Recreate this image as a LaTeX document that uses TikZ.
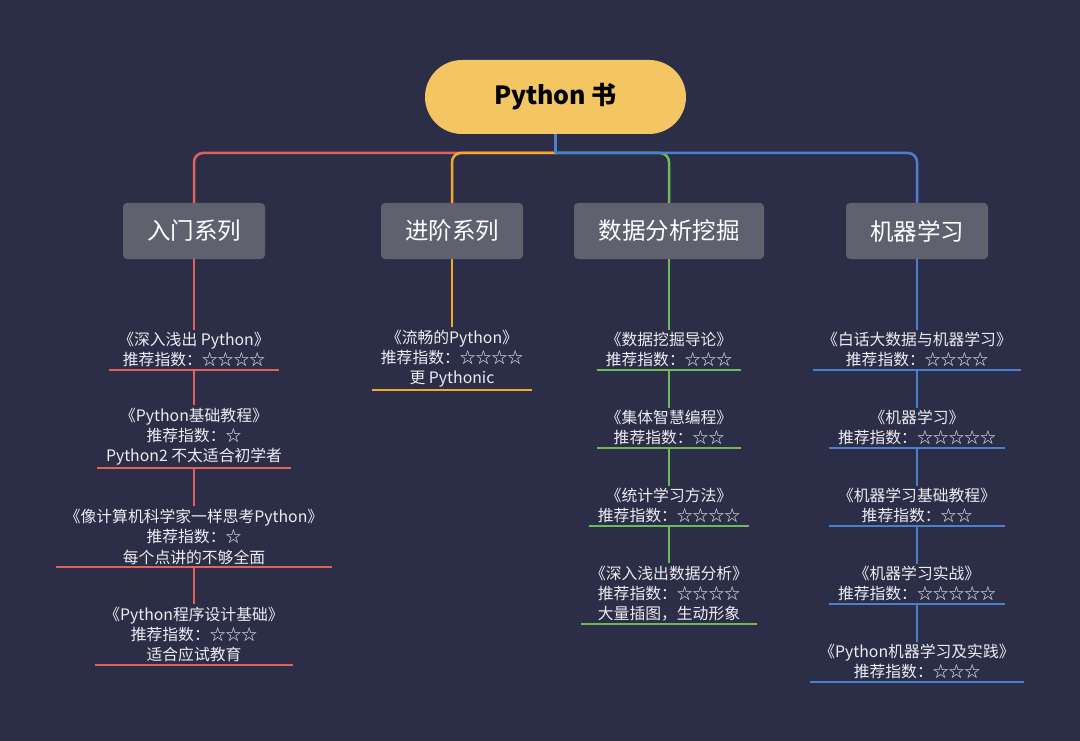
\documentclass[tikz,border=0pt]{standalone}
\usepackage{fontspec}
\setmainfont{Noto Sans CJK SC}
\definecolor{bg}{HTML}{2C2E48}
\definecolor{rootfill}{HTML}{F3C563}
\definecolor{catfill}{HTML}{5F616F}
\definecolor{leaftext}{HTML}{ECECF2}
\definecolor{cred}{HTML}{E0625A}
\definecolor{corange}{HTML}{F3AA2C}
\definecolor{cgreen}{HTML}{6CBB5A}
\definecolor{cblue}{HTML}{4B7FCF}
\tikzset{
  root/.style={fill=rootfill, rounded corners=37pt, minimum width=261pt, minimum height=74pt,
    text=black, font=\fontsize{25}{30}\selectfont\bfseries},
  cat/.style={fill=catfill, rounded corners=4pt, minimum height=56pt, text=white,
    font=\fontsize{23.5}{28}\selectfont},
  leaf/.style={text=leaftext, font=\fontsize{15.8}{20.3}\selectfont, align=center,
    inner xsep=9pt, inner ysep=2.5pt, anchor=south},
  br/.style={line width=2.5pt, rounded corners=9pt},
  redl/.style={br, draw=cred},
  orl/.style={br, draw=corange},
  grl/.style={br, draw=cgreen},
  bll/.style={br, draw=cblue},
}
\begin{document}
\begin{tikzpicture}[x=1pt,y=-1pt]
\fill[bg] (0,0) rectangle (1080,741);
\useasboundingbox (0,0) rectangle (1080,741);

\node[root] (root) at (555.5,97) {Python 书};
\coordinate (hub) at (555.5,153);

\node[cat, minimum width=142pt] (c1) at (194,231) {入门系列};
\node[cat, minimum width=142pt] (c2) at (452,231) {进阶系列};
\node[cat, minimum width=190pt] (c3) at (669,231) {数据分析挖掘};
\node[cat, minimum width=142pt] (c4) at (917,231) {机器学习};

% branches
\draw[redl] (hub) -| (c1.north);
\draw[grl] (hub) -| (c3.north);
\draw[orl] (hub) -| (c2.north);
\draw[bll] (hub) -| (c4.north);
\draw[bll, rounded corners=0pt] (root.south) -- (hub);

% red column
\node[leaf] (r1) at (194,370) {《深入浅出 Python》\\推荐指数：☆☆☆☆};
\node[leaf] (r2) at (194,468) {《Python基础教程》\\推荐指数：☆\\Python2 不太适合初学者};
\node[leaf] (r3) at (194,567) {《像计算机科学家一样思考Python》\\推荐指数：☆\\每个点讲的不够全面};
\node[leaf] (r4) at (194,665) {《Python程序设计基础》\\推荐指数：☆☆☆\\适合应试教育};

% orange column
\node[leaf] (o1) at (452,390) {《流畅的Python》\\推荐指数：☆☆☆☆\\更 Pythonic};

% green column
\node[leaf] (g1) at (669,370) {《数据挖掘导论》\\推荐指数：☆☆☆};
\node[leaf] (g2) at (669,448) {《集体智慧编程》\\推荐指数：☆☆};
\node[leaf] (g3) at (669,526) {《统计学习方法》\\推荐指数：☆☆☆☆};
\node[leaf] (g4) at (669,624) {《深入浅出数据分析》\\推荐指数：☆☆☆☆\\大量插图，生动形象};

% blue column
\node[leaf] (b1) at (917,370) {《白话大数据与机器学习》\\推荐指数：☆☆☆☆};
\node[leaf] (b2) at (917,448) {《机器学习》\\推荐指数：☆☆☆☆☆};
\node[leaf] (b3) at (917,526) {《机器学习基础教程》\\推荐指数：☆☆};
\node[leaf] (b4) at (917,604) {《机器学习实战》\\推荐指数：☆☆☆☆☆};
\node[leaf] (b5) at (917,682) {《Python机器学习及实践》\\推荐指数：☆☆☆};

% vertical connectors
\draw[redl] (c1.south) -- (r1.north) (r1.south) -- (r2.north) (r2.south) -- (r3.north) (r3.south) -- (r4.north);
\draw[orl] (c2.south) -- (o1.north);
\draw[grl] (c3.south) -- (g1.north) (g1.south) -- (g2.north) (g2.south) -- (g3.north) (g3.south) -- (g4.north);
\draw[bll] (c4.south) -- (b1.north) (b1.south) -- (b2.north) (b2.south) -- (b3.north) (b3.south) -- (b4.north) (b4.south) -- (b5.north);

% underlines
\foreach \n in {r1,r2,r3,r4} \draw[redl] (\n.south west) -- (\n.south east);
\draw[orl] (o1.south west) -- (o1.south east);
\foreach \n in {g1,g2,g3,g4} \draw[grl] (\n.south west) -- (\n.south east);
\foreach \n in {b1,b2,b3,b4,b5} \draw[bll] (\n.south west) -- (\n.south east);
\end{tikzpicture}
\end{document}
